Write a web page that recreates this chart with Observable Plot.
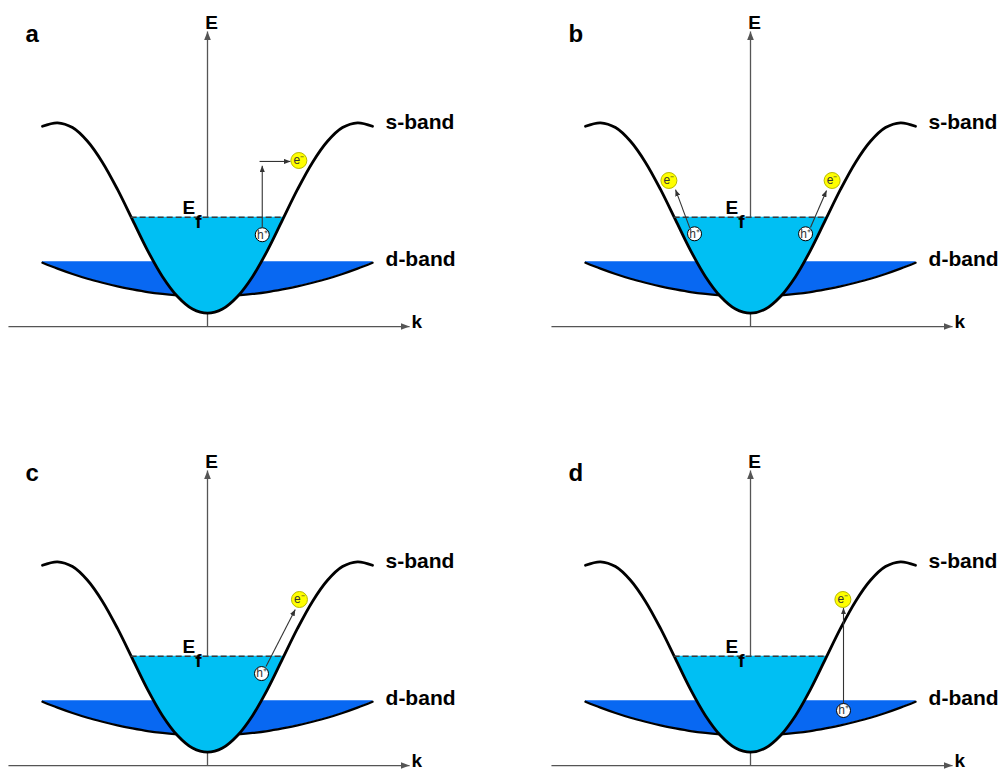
<!DOCTYPE html>
<html>
<head>
<meta charset="utf-8">
<script src="https://cdn.jsdelivr.net/npm/d3@7"></script>
<script src="https://cdn.jsdelivr.net/npm/@observablehq/plot@0.6"></script>
<style>
  body { margin: 0; background: #ffffff; }
  #chart { position: relative; width: 1004px; height: 771px; overflow: hidden; background: #ffffff; }
  #chart svg { position: absolute; }
</style>
</head>
<body>
<div id="chart"></div>
<script>
// ---- data (k in units of the zone edge, E normalised to the s-band width) ----
const sBandK = [-1.1, -1.0, -0.9, -0.8, -0.7, -0.6, -0.5, -0.4, -0.3, -0.2, -0.1, 0, 0.1, 0.2, 0.3, 0.4, 0.5, 0.6, 0.7, 0.8, 0.9, 1.0, 1.1];
const sBandE = [0.982, 1.0, 0.975, 0.903, 0.792, 0.65, 0.49, 0.33, 0.192, 0.088, 0.022, 0, 0.022, 0.088, 0.192, 0.33, 0.49, 0.65, 0.792, 0.903, 0.975, 1.0, 0.982];
const dBandK = [-1.1, -1.0, -0.9, -0.8, -0.7, -0.6, -0.5, -0.4, -0.3, -0.2, -0.1, 0, 0.1, 0.2, 0.3, 0.4, 0.5, 0.6, 0.7, 0.8, 0.9, 1.0, 1.1];
const dBandBottom = [0.265, 0.234, 0.206, 0.181, 0.160, 0.141, 0.125, 0.111, 0.101, 0.094, 0.089, 0.088, 0.089, 0.094, 0.101, 0.111, 0.125, 0.141, 0.160, 0.181, 0.206, 0.234, 0.265];
const dBandTop = 0.27;
const fermiE = 0.504;
const fermiK = [-0.509, 0.509];
const kAxis = [-1.327, 1.347];   // extent of the k axis
const eAxis = [-0.07, 1.48];     // extent of the E axis

const panelNames = ["a", "b", "c", "d"];
const holes = [
  {panel: "a", k: 0.365, E: 0.412},
  {panel: "b", k: -0.373, E: 0.417},
  {panel: "b", k: 0.367, E: 0.417},
  {panel: "c", k: 0.36, E: 0.413},
  {panel: "d", k: 0.62, E: 0.219}
];
const electrons = [
  {panel: "a", k: 0.609, E: 0.802},
  {panel: "b", k: -0.544, E: 0.697},
  {panel: "b", k: 0.544, E: 0.697},
  {panel: "c", k: 0.613, E: 0.802},
  {panel: "d", k: 0.616, E: 0.802}
];
const excitations = [
  {panel: "a", k1: 0.365, E1: 0.452, k2: 0.365, E2: 0.775},
  {panel: "a", k1: 0.347, E1: 0.797, k2: 0.553, E2: 0.797},
  {panel: "b", k1: -0.405, E1: 0.448, k2: -0.5, E2: 0.649},
  {panel: "b", k1: 0.4, E1: 0.45, k2: 0.507, E2: 0.644},
  {panel: "c", k1: 0.39, E1: 0.45, k2: 0.585, E2: 0.75},
  {panel: "d", k1: 0.62, E1: 0.255, k2: 0.62, E2: 0.758}
];

// ---- filled arrow-head marker ----
function headMarker(len, half) {
  return (color, context) => {
    const doc = (context && context.document) || document;
    const ns = "http://www.w3.org/2000/svg";
    const m = doc.createElementNS(ns, "marker");
    m.setAttribute("viewBox", `${-len} ${-half} ${len} ${2 * half}`);
    m.setAttribute("markerWidth", len);
    m.setAttribute("markerHeight", 2 * half);
    m.setAttribute("markerUnits", "userSpaceOnUse");
    m.setAttribute("orient", "auto");
    m.setAttribute("refX", 0);
    m.setAttribute("refY", 0);
    const p = doc.createElementNS(ns, "path");
    p.setAttribute("d", `M${-len},${-half}L0,0L${-len},${half}Z`);
    p.setAttribute("fill", color);
    p.setAttribute("stroke", "none");
    m.appendChild(p);
    return m;
  };
}
const axisHead = headMarker(9, 3.5);
const smallHead = headMarker(6.5, 2.6);

const sData = sBandK.map((k, i) => ({k, E: sBandE[i]}));
const fillData = [{k: fermiK[0], E: fermiE}, ...sData.filter(d => d.k > fermiK[0] && d.k < fermiK[1]), {k: fermiK[1], E: fermiE}];
const dData = dBandK.map((k, i) => ({k, bottom: dBandBottom[i]}));

const font = "'Liberation Sans', Arial, Helvetica, sans-serif";
const offsets = {a: [0, 0], b: [543, 0], c: [0, 439], d: [543, 439]};

function panel(p) {
  const svg = Plot.plot({
    width: 461,
    height: 332,
    margin: 0,
    x: {domain: [-1.38, 1.6933], axis: null},
    y: {domain: [-0.1013, 1.6423], axis: null},
    style: {fontFamily: font, background: "transparent", overflow: "visible", color: "black"},
    marks: [
      // axes
      Plot.link([0], {x1: kAxis[0], x2: kAxis[1], y1: eAxis[0], y2: eAxis[0], stroke: "#555", strokeWidth: 1.3, markerEnd: axisHead}),
      Plot.link([0], {x1: 0, x2: 0, y1: eAxis[0], y2: eAxis[1], stroke: "#555", strokeWidth: 1.3, markerEnd: axisHead}),
      // d-band
      Plot.areaY(dData, {x: "k", y1: "bottom", y2: dBandTop, fill: "#0868f2", curve: "catmull-rom"}),
      Plot.line(dData, {x: "k", y: "bottom", stroke: "black", strokeWidth: 2.3, curve: "catmull-rom"}),
      // occupied s-band
      Plot.areaY(fillData, {x: "k", y1: "E", y2: fermiE, fill: "#00bff3", curve: "catmull-rom"}),
      Plot.line(sData, {x: "k", y: "E", stroke: "black", strokeWidth: 2.8, curve: "catmull-rom"}),
      // Fermi level
      Plot.ruleY([fermiE], {x1: fermiK[0], x2: fermiK[1], stroke: "#3a3a3a", strokeWidth: 1.3, strokeDasharray: "6,3"}),
      // labels
      Plot.text([p], {text: d => d, frameAnchor: "top-left", dx: 25, dy: 24, textAnchor: "start", fontSize: 24, fontWeight: "bold"}),
      Plot.text(["E"], {text: d => d, x: 0.027, y: 1.495, textAnchor: "middle", lineAnchor: "bottom", fontSize: 19, fontWeight: "bold"}),
      Plot.text(["k"], {text: d => d, x: 1.36, y: -0.078, textAnchor: "start", lineAnchor: "bottom", fontSize: 19, fontWeight: "bold"}),
      Plot.text(["s-band"], {text: d => d, x: 1.187, y: 0.9685, textAnchor: "start", lineAnchor: "bottom", fontSize: 21, fontWeight: "bold"}),
      Plot.text(["d-band"], {text: d => d, x: 1.187, y: 0.247, textAnchor: "start", lineAnchor: "bottom", fontSize: 21, fontWeight: "bold"}),
      Plot.text(["E"], {text: d => d, x: -0.1667, y: 0.522, textAnchor: "start", lineAnchor: "bottom", fontSize: 19, fontWeight: "bold"}),
      Plot.text(["f"], {text: d => d, x: -0.082, y: 0.45, textAnchor: "start", lineAnchor: "bottom", fontSize: 19, fontWeight: "bold"}),
      // excitations
      Plot.link(excitations.filter(d => d.panel === p), {x1: "k1", y1: "E1", x2: "k2", y2: "E2", stroke: "#333", strokeWidth: 1.1, markerEnd: smallHead}),
      // holes and electrons
      Plot.dot(holes.filter(d => d.panel === p), {x: "k", y: "E", r: 7, fill: "white", stroke: "black", strokeWidth: 1}),
      Plot.text(holes.filter(d => d.panel === p), {x: "k", y: "E", text: () => "h⁺", fontSize: 12, fill: "#333"}),
      Plot.dot(electrons.filter(d => d.panel === p), {x: "k", y: "E", r: 8, fill: "#ffff00", stroke: "#b8b800", strokeWidth: 1}),
      Plot.text(electrons.filter(d => d.panel === p), {x: "k", y: "E", text: () => "e⁻", fontSize: 12, fill: "#333"})
    ]
  });
  svg.style.left = offsets[p][0] + "px";
  svg.style.top = offsets[p][1] + "px";
  return svg;
}

const chart = document.getElementById("chart");
for (const p of panelNames) chart.appendChild(panel(p));
</script>
</body>
</html>
